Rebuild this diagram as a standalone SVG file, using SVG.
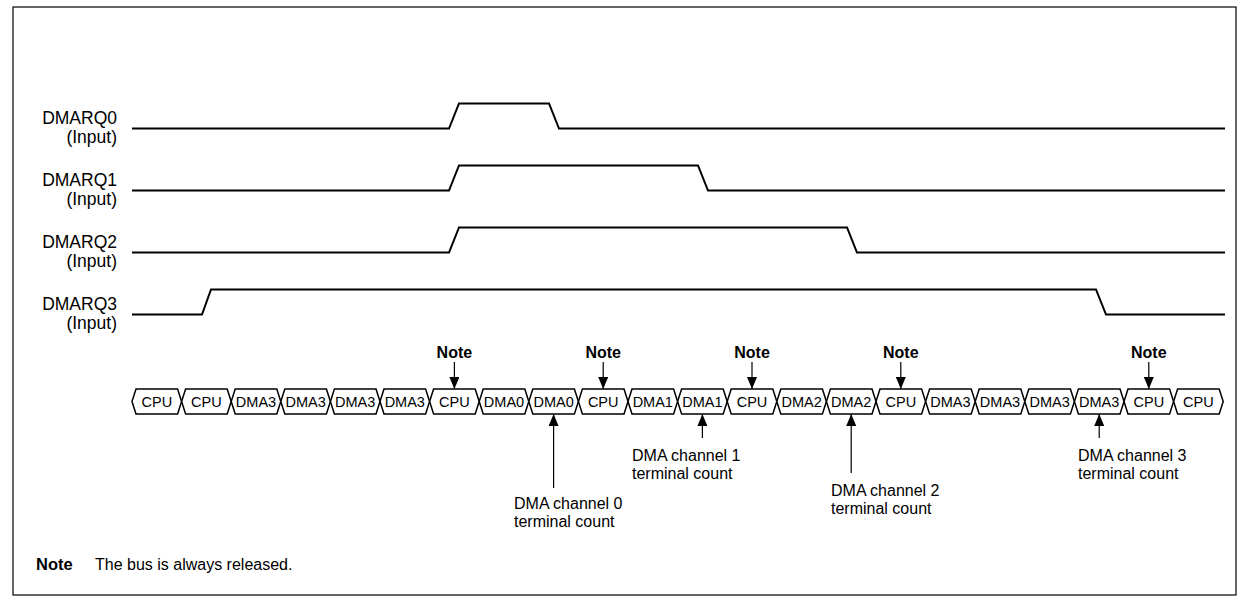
<svg xmlns="http://www.w3.org/2000/svg" width="1250" height="608" viewBox="0 0 1250 608">
<style>
text{font-family:"Liberation Sans",Arial,sans-serif;fill:#000}
.lbl{font-size:17.5px;text-anchor:end}
.sig{fill:none;stroke:#000;stroke-width:2;stroke-linejoin:miter}
.cell polygon{fill:#fff;stroke:#000;stroke-width:1.5}
.cell text{font-size:14.5px;text-anchor:middle}
.note{font-size:16px;font-weight:bold;text-anchor:middle}
.ann{font-size:16px}
.arr{stroke:#000;stroke-width:1.2;fill:none}
</style>
<defs>
<marker id="ah" viewBox="0 0 12 10" refX="12" refY="5" markerWidth="12" markerHeight="10" markerUnits="userSpaceOnUse" orient="auto"><path d="M0,0 L12,5 L0,10 z" fill="#000"/></marker>
</defs>
<rect x="13" y="7" width="1223" height="588" fill="#fff" stroke="#000" stroke-width="1.2"/>

<g id="labels">
<text class="lbl" x="117" y="124">DMARQ0</text><text class="lbl" x="117" y="143">(Input)</text>
<text class="lbl" x="117" y="186">DMARQ1</text><text class="lbl" x="117" y="205">(Input)</text>
<text class="lbl" x="117" y="248">DMARQ2</text><text class="lbl" x="117" y="267">(Input)</text>
<text class="lbl" x="117" y="310">DMARQ3</text><text class="lbl" x="117" y="329">(Input)</text>
</g>

<g id="waveforms">
<path id="dmarq0" class="sig" d="M132,128.5 H449 L459,103.5 H549 L559,128.5 H1225"/>
<path id="dmarq1" class="sig" d="M132,190.5 H449 L459,165.5 H698 L708,190.5 H1225"/>
<path id="dmarq2" class="sig" d="M132,252.5 H449 L459,227.5 H847 L857,252.5 H1225"/>
<path id="dmarq3" class="sig" d="M132,314.5 H202 L211,289.5 H1096 L1106,314.5 H1225"/>
</g>

<g id="bus" class="cell">
<g id="c0"><polygon points="132,401.5 136,389 177.6,389 181.6,401.5 177.6,414 136,414"/><text x="156.8" y="407">CPU</text></g>
<g id="c1"><polygon points="181.6,401.5 185.6,389 227.2,389 231.2,401.5 227.2,414 185.6,414"/><text x="206.4" y="407">CPU</text></g>
<g id="c2"><polygon points="231.2,401.5 235.2,389 276.8,389 280.8,401.5 276.8,414 235.2,414"/><text x="256" y="407">DMA3</text></g>
<g id="c3"><polygon points="280.8,401.5 284.8,389 326.4,389 330.4,401.5 326.4,414 284.8,414"/><text x="305.6" y="407">DMA3</text></g>
<g id="c4"><polygon points="330.4,401.5 334.4,389 376,389 380,401.5 376,414 334.4,414"/><text x="355.2" y="407">DMA3</text></g>
<g id="c5"><polygon points="380,401.5 384,389 425.6,389 429.6,401.5 425.6,414 384,414"/><text x="404.8" y="407">DMA3</text></g>
<g id="c6"><polygon points="429.6,401.5 433.6,389 475.2,389 479.2,401.5 475.2,414 433.6,414"/><text x="454.4" y="407">CPU</text></g>
<g id="c7"><polygon points="479.2,401.5 483.2,389 524.8,389 528.8,401.5 524.8,414 483.2,414"/><text x="504" y="407">DMA0</text></g>
<g id="c8"><polygon points="528.8,401.5 532.8,389 574.4,389 578.4,401.5 574.4,414 532.8,414"/><text x="553.6" y="407">DMA0</text></g>
<g id="c9"><polygon points="578.4,401.5 582.4,389 624,389 628,401.5 624,414 582.4,414"/><text x="603.2" y="407">CPU</text></g>
<g id="c10"><polygon points="628,401.5 632,389 673.6,389 677.6,401.5 673.6,414 632,414"/><text x="652.8" y="407">DMA1</text></g>
<g id="c11"><polygon points="677.6,401.5 681.6,389 723.2,389 727.2,401.5 723.2,414 681.6,414"/><text x="702.4" y="407">DMA1</text></g>
<g id="c12"><polygon points="727.2,401.5 731.2,389 772.8,389 776.8,401.5 772.8,414 731.2,414"/><text x="752" y="407">CPU</text></g>
<g id="c13"><polygon points="776.8,401.5 780.8,389 822.4,389 826.4,401.5 822.4,414 780.8,414"/><text x="801.6" y="407">DMA2</text></g>
<g id="c14"><polygon points="826.4,401.5 830.4,389 872,389 876,401.5 872,414 830.4,414"/><text x="851.2" y="407">DMA2</text></g>
<g id="c15"><polygon points="876,401.5 880,389 921.6,389 925.6,401.5 921.6,414 880,414"/><text x="900.8" y="407">CPU</text></g>
<g id="c16"><polygon points="925.6,401.5 929.6,389 971.2,389 975.2,401.5 971.2,414 929.6,414"/><text x="950.4" y="407">DMA3</text></g>
<g id="c17"><polygon points="975.2,401.5 979.2,389 1020.8,389 1024.8,401.5 1020.8,414 979.2,414"/><text x="1000" y="407">DMA3</text></g>
<g id="c18"><polygon points="1024.8,401.5 1028.8,389 1070.4,389 1074.4,401.5 1070.4,414 1028.8,414"/><text x="1049.6" y="407">DMA3</text></g>
<g id="c19"><polygon points="1074.4,401.5 1078.4,389 1120,389 1124,401.5 1120,414 1078.4,414"/><text x="1099.2" y="407">DMA3</text></g>
<g id="c20"><polygon points="1124,401.5 1128,389 1169.6,389 1173.6,401.5 1169.6,414 1128,414"/><text x="1148.8" y="407">CPU</text></g>
<g id="c21"><polygon points="1173.6,401.5 1177.6,389 1219.2,389 1223.2,401.5 1219.2,414 1177.6,414"/><text x="1198.4" y="407">CPU</text></g>
</g>

<g id="notes">
<text class="note" x="454.4" y="358">Note</text>
<text class="note" x="603.2" y="358">Note</text>
<text class="note" x="752" y="358">Note</text>
<text class="note" x="900.8" y="358">Note</text>
<text class="note" x="1148.8" y="358">Note</text>
</g>

<g id="connectors">
<line class="arr" x1="454.4" y1="362" x2="454.4" y2="389" marker-end="url(#ah)"/>
<line class="arr" x1="603.2" y1="362" x2="603.2" y2="389" marker-end="url(#ah)"/>
<line class="arr" x1="752" y1="362" x2="752" y2="389" marker-end="url(#ah)"/>
<line class="arr" x1="900.8" y1="362" x2="900.8" y2="389" marker-end="url(#ah)"/>
<line class="arr" x1="1148.8" y1="362" x2="1148.8" y2="389" marker-end="url(#ah)"/>
<line class="arr" x1="553.6" y1="488" x2="553.6" y2="414" marker-end="url(#ah)"/>
<line class="arr" x1="702.4" y1="438" x2="702.4" y2="414" marker-end="url(#ah)"/>
<line class="arr" x1="851.2" y1="473" x2="851.2" y2="414" marker-end="url(#ah)"/>
<line class="arr" x1="1099.2" y1="438" x2="1099.2" y2="414" marker-end="url(#ah)"/>
</g>

<g id="tc0"><text class="ann" x="514" y="509">DMA channel 0</text><text class="ann" x="514" y="527">terminal count</text></g>
<g id="tc1"><text class="ann" x="632" y="461">DMA channel 1</text><text class="ann" x="632" y="479">terminal count</text></g>
<g id="tc2"><text class="ann" x="831" y="496">DMA channel 2</text><text class="ann" x="831" y="514">terminal count</text></g>
<g id="tc3"><text class="ann" x="1078" y="461">DMA channel 3</text><text class="ann" x="1078" y="479">terminal count</text></g>

<g id="footnote">
<text x="36" y="570" style="font-size:16.5px;font-weight:bold">Note</text>
<text x="95" y="570" style="font-size:16px">The bus is always released.</text>
</g>
</svg>
